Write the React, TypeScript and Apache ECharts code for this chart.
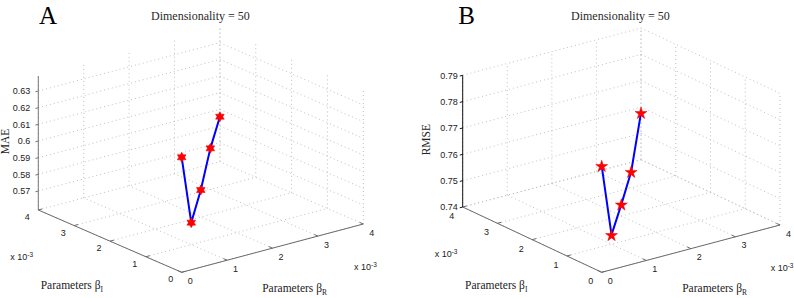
import React, { useEffect, useRef } from "react";
import * as echarts from "echarts";

// Regularisation parameters βI and βR (units of 10^-3) along the tuning path
const betaI = [0, 1, 2, 3, 4];
const betaR = [0, 1, 2, 3, 4];
// Error at each parameter pair, dimensionality = 50
const maeValues = [0.6276, 0.5718, 0.5748, 0.5832, 0.5856];
const rmseValues = [0.7804, 0.7435, 0.7444, 0.7461, 0.7578];

// Axis ticks and limits
const betaTicks = [0, 1, 2, 3, 4];
const betaLimits = [0, 4];
const maeTicks = [0.57, 0.58, 0.59, 0.6, 0.61, 0.62, 0.63];
const maeLimits = [0.5586, 0.639];
const rmseTicks = [0.74, 0.75, 0.76, 0.77, 0.78, 0.79];
const rmseLimits = [0.74, 0.79];

const titleText = "Dimensionality = 50";
const betaExponent = "-3";

type Pt = [number, number];

interface Panel {
  letter: string;
  zName: string;
  zNameX: number;
  values: number[];
  zTicks: number[];
  zLimits: number[];
  origin: Pt; // βI = 0, βR = 0, floor
  left: Pt; // βI = max, βR = 0, floor
  right: Pt; // βI = 0, βR = max, floor
  height: number;
  letterX: number;
  labelGap: number;
  betaILabelDy: number;
  zAxisColor: string;
  marker: string;
  markerSize: number;
}

function starPath(points: number, inner: number): string {
  const parts: string[] = [];
  for (let k = 0; k < points * 2; k++) {
    const r = k % 2 === 0 ? 1 : inner;
    const a = -Math.PI / 2 + (k * Math.PI) / points;
    parts.push(`${k === 0 ? "M" : "L"}${(r * Math.cos(a)).toFixed(4)} ${(r * Math.sin(a)).toFixed(4)}`);
  }
  return "path://" + parts.join(" ") + " Z";
}

const hexagram = starPath(6, 1 / Math.sqrt(3));
const pentagram = starPath(5, 0.382);

const panels: Panel[] = [
  {
    letter: "A",
    zName: "MAE",
    zNameX: 4.5,
    values: maeValues,
    zTicks: maeTicks,
    zLimits: maeLimits,
    origin: [181.7, 272.3],
    left: [38.3, 210],
    right: [363.3, 224],
    height: 134,
    letterX: 39,
    labelGap: 8,
    betaILabelDy: 7,
    zAxisColor: "#777",
    marker: hexagram,
    markerSize: 10,
  },
  {
    letter: "B",
    zName: "RMSE",
    zNameX: 426.2,
    values: rmseValues,
    zTicks: rmseTicks,
    zLimits: rmseLimits,
    origin: [601.7, 272.3],
    left: [462.7, 207],
    right: [780, 225],
    height: 131.7,
    letterX: 458.3,
    labelGap: 5,
    betaILabelDy: 9,
    zAxisColor: "#111",
    marker: pentagram,
    markerSize: 12,
  },
];

// Orthographic projection of (βI, βR, value) onto the page plane
function project(p: Panel, bi: number, br: number, z: number): Pt {
  const [b0, b1] = betaLimits;
  const u = (bi - b0) / (b1 - b0);
  const v = (br - b0) / (b1 - b0);
  const w = (z - p.zLimits[0]) / (p.zLimits[1] - p.zLimits[0]);
  const [ox, oy] = p.origin;
  return [
    ox + u * (p.left[0] - ox) + v * (p.right[0] - ox),
    oy + u * (p.left[1] - oy) + v * (p.right[1] - oy) - w * p.height,
  ];
}

const SERIF = "'Liberation Serif', 'Times New Roman', serif";
const SANS = "'Liberation Sans', Arial, sans-serif";

function txt(x: number, y: number, text: string, opts: any = {}) {
  const align = opts.align || "center";
  const vAlign = opts.verticalAlign || "middle";
  return {
    type: "text",
    x,
    y,
    rotation: opts.rotation || 0,
    silent: true,
    style: {
      text,
      fill: opts.fill || "#222",
      fontSize: opts.fontSize || 9,
      fontFamily: opts.fontFamily || SANS,
      lineHeight: opts.lineHeight,
      align,
      verticalAlign: vAlign,
      textAlign: align,
      textVerticalAlign: vAlign,
      rich: opts.rich,
    },
  };
}

function renderFrame(p: Panel) {
  return (_params: any, api: any) => {
    const [zLo, zHi] = p.zLimits;
    const [bLo, bHi] = betaLimits;
    const at = (bi: number, br: number, z: number): Pt => api.coord(project(p, bi, br, z));
    const children: any[] = [];
    const gridStyle = { stroke: "#b9b9b9", lineWidth: 0.9, lineDash: [1, 3] };
    const axisStyle = { stroke: "#6a6a6a", lineWidth: 1 };
    const seg = (a: Pt, b: Pt, style: any) => ({
      type: "line",
      silent: true,
      shape: { x1: a[0], y1: a[1], x2: b[0], y2: b[1] },
      style,
    });

    // floor grid
    betaTicks.forEach((t) => {
      children.push(seg(at(t, bLo, zLo), at(t, bHi, zLo), gridStyle));
      children.push(seg(at(bLo, t, zLo), at(bHi, t, zLo), gridStyle));
    });
    // back walls: verticals
    betaTicks.forEach((t) => {
      children.push(seg(at(bHi, t, zLo), at(bHi, t, zHi), gridStyle));
      children.push(seg(at(t, bHi, zLo), at(t, bHi, zHi), gridStyle));
    });
    // back walls: horizontals at value ticks
    p.zTicks.forEach((z) => {
      children.push(seg(at(bHi, bLo, z), at(bHi, bHi, z), gridStyle));
      children.push(seg(at(bHi, bHi, z), at(bLo, bHi, z), gridStyle));
    });

    const o = at(bLo, bLo, zLo);
    const l = at(bHi, bLo, zLo);
    const r = at(bLo, bHi, zLo);
    const top = at(bHi, bLo, zHi);
    const unit = (a: Pt, b: Pt): Pt => {
      const dx = b[0] - a[0];
      const dy = b[1] - a[1];
      const n = Math.hypot(dx, dy);
      return [dx / n, dy / n];
    };
    const dI = unit(o, l);
    const dR = unit(o, r);

    // axis lines
    children.push(seg(o, l, axisStyle));
    children.push(seg(o, r, axisStyle));
    children.push(seg(l, top, { stroke: p.zAxisColor, lineWidth: 1 }));

    // βI ticks and labels
    betaTicks.forEach((t) => {
      const q = at(t, bLo, zLo);
      children.push(seg(q, [q[0] + dR[0] * 4, q[1] + dR[1] * 4], axisStyle));
      children.push(txt(q[0] - 11, q[1] + p.betaILabelDy, String(t)));
    });
    // βR ticks and labels
    betaTicks.forEach((t) => {
      const q = at(bLo, t, zLo);
      children.push(seg(q, [q[0] + dI[0] * 4, q[1] + dI[1] * 4], axisStyle));
      children.push(txt(q[0] + 8.5, q[1] + 8.5, String(t)));
    });
    // value ticks and labels
    p.zTicks.forEach((z) => {
      const q = at(bHi, bLo, z);
      children.push(seg(q, [q[0] - dR[0] * 3, q[1] - dR[1] * 3], { stroke: p.zAxisColor, lineWidth: 1 }));
      children.push(txt(q[0] - p.labelGap, q[1] + 0.3, String(z), { align: "right" }));
    });

    // exponent labels
    const expRich = { sup: { fontSize: 6.5, lineHeight: 7, verticalAlign: "top", fontFamily: SANS, fill: "#222" } };
    children.push(
      txt(l[0] - 28, l[1] + 47, `x 10{sup|${betaExponent}}`, { align: "left", lineHeight: 13, rich: expRich })
    );
    children.push(
      txt(r[0] - 9.3, r[1] + 43, `x 10{sup|${betaExponent}}`, { align: "left", lineHeight: 13, rich: expRich })
    );

    // axis names
    const subRich = {
      sub: { fontSize: 7.5, lineHeight: 8, verticalAlign: "bottom", fontFamily: SERIF, fill: "#222" },
    };
    children.push(
      txt(l[0] + 2.4, o[1] + 13, "Parameters β{sub|I}", {
        align: "left",
        fontFamily: SERIF,
        fontSize: 11.5,
        lineHeight: 17,
        rich: subRich,
      })
    );
    children.push(
      txt(o[0] + 80.5, o[1] + 16, "Parameters β{sub|R}", {
        align: "left",
        fontFamily: SERIF,
        fontSize: 11.5,
        lineHeight: 17,
        rich: subRich,
      })
    );
    children.push(
      txt(p.zNameX, (l[1] + top[1]) / 2 - 1.5, p.zName, {
        fontFamily: SERIF,
        fontSize: 11.5,
        rotation: Math.PI / 2,
      })
    );

    // panel title and letter
    children.push(txt(o[0] + 18.7, 15.5, titleText, { fontFamily: SERIF, fontSize: 12, fill: "#2a2a2a" }));
    children.push(txt(p.letterX, 15, p.letter, { align: "left", fontFamily: SERIF, fontSize: 25, fill: "#000" }));

    return { type: "group", children };
  };
}

export default function App() {
  const ref = useRef<HTMLDivElement>(null);

  useEffect(() => {
    document.body.style.margin = "0";
    if (!ref.current) return;
    const chart = echarts.init(ref.current, undefined, { renderer: "svg" });

    const series: any[] = [];
    panels.forEach((p) => {
      series.push({
        type: "custom",
        coordinateSystem: "cartesian2d",
        data: [[0, 0]],
        clip: false,
        silent: true,
        z: 1,
        renderItem: renderFrame(p),
      });
    });
    panels.forEach((p) => {
      series.push({
        type: "line",
        data: betaI.map((b, i) => project(p, b, betaR[i], p.values[i])),
        symbol: p.marker,
        symbolSize: p.markerSize,
        symbolKeepAspect: true,
        showSymbol: true,
        silent: true,
        z: 5,
        lineStyle: { color: "#0000ff", width: 2 },
        itemStyle: { color: "#ff0000", borderColor: "#e00000", borderWidth: 0.5 },
      });
    });

    chart.setOption({
      animation: false,
      backgroundColor: "#ffffff",
      grid: { left: 0, right: 0, top: 0, bottom: 0, containLabel: false },
      xAxis: { type: "value", min: 0, max: 794, show: false },
      yAxis: { type: "value", min: 0, max: 298, inverse: true, show: false },
      series,
    });

    return () => chart.dispose();
  }, []);

  return <div ref={ref} style={{ width: 794, height: 298 }} />;
}
